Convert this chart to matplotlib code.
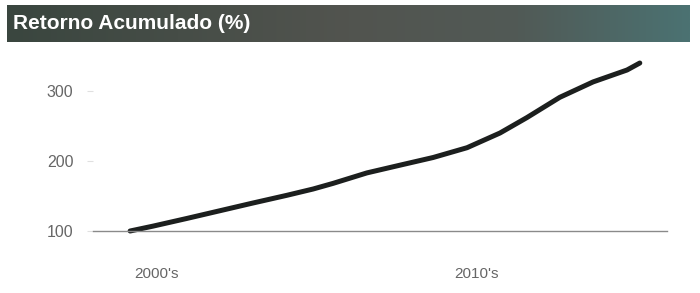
# Retorno Acumulado (%) - cumulative return line chart
import matplotlib
matplotlib.use('Agg')
import matplotlib.pyplot as plt
from matplotlib.colors import LinearSegmentedColormap
import numpy as np

plt.rcParams['font.family'] = ['Liberation Sans', 'DejaVu Sans']

# data
years = [1999.16, 1999.88, 2000.94, 2001.97, 2003.0, 2004.06, 2004.88,
         2005.5, 2006.56, 2007.59, 2008.63, 2009.69, 2010.72, 2011.56,
         2012.59, 2013.63, 2014.69, 2015.09]
retorno = [100, 107, 118, 129, 140, 151, 160, 168, 183, 194, 205, 219,
           240, 262, 291, 313, 330, 340]
y_ticks = [100, 200, 300]
x_ticks = [2000, 2010]
x_labels = ["2000's", "2010's"]
title = 'Retorno Acumulado (%)'

fig = plt.figure(figsize=(7, 2.93), dpi=100)
fig.patch.set_facecolor('white')

# title bar with a dark gradient
bar = fig.add_axes([7 / 700, 1 - 42 / 293, 683 / 700, 37 / 293])
bar_cmap = LinearSegmentedColormap.from_list(
    'bar', ['#3a463f', '#464d47', '#52544f', '#515a56', '#4b7272'])
grad = np.linspace(0, 1, 256).reshape(1, -1)
bar.imshow(grad, aspect='auto', cmap=bar_cmap, extent=[0, 1, 0, 1])
bar.set_xlim(0, 1)
bar.set_ylim(0, 1)
bar.axis('off')
bar.text(0.009, 0.5, title, color='white', fontsize=15, fontweight='bold',
         va='center', ha='left')

# main plot
ax = fig.add_axes([93 / 700, 1 - 231 / 293, 574 / 700, 181 / 293])
ax.plot(years, retorno, color='#1c1f1e', linewidth=3.6,
        solid_capstyle='round', solid_joinstyle='round', clip_on=False)
ax.set_xlim(1998.0, 2015.94)
ax.set_ylim(100, 358.6)
ax.set_yticks(y_ticks)
ax.set_xticks(x_ticks)
ax.set_xticklabels(x_labels)
for s in ['top', 'right', 'left']:
    ax.spines[s].set_visible(False)
ax.spines['bottom'].set_color('#8a8a8a')
ax.spines['bottom'].set_linewidth(1.0)
ax.tick_params(axis='y', length=4, color='#e0e0e0', pad=10,
               labelsize=11.5, labelcolor='#666666')
ax.tick_params(axis='x', length=0, pad=26, labelsize=11, labelcolor='#666666')

fig.savefig('out.png', dpi=100)
